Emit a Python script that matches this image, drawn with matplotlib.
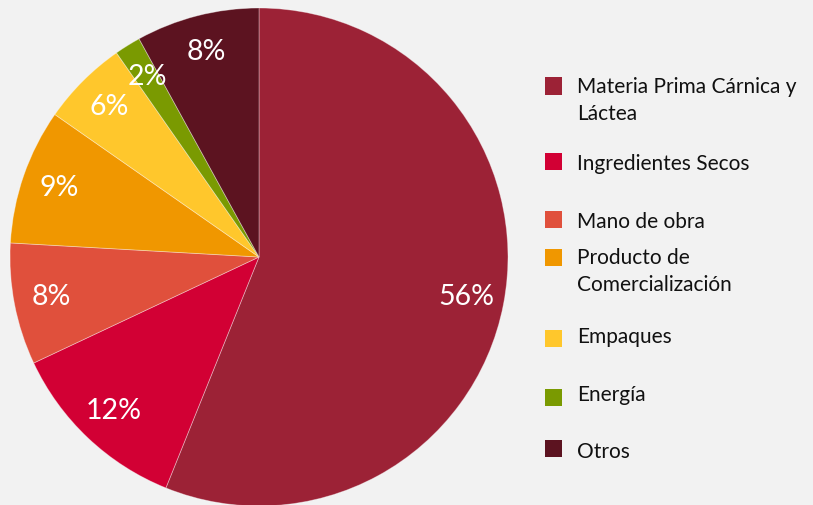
import matplotlib.pyplot as plt
from matplotlib.patches import Rectangle

categorias = ['Materia Prima Cárnica y\nLáctea', 'Ingredientes Secos', 'Mano de obra',
              'Producto de\nComercialización', 'Empaques', 'Energía', 'Otros']
valores = [56.1, 11.9, 7.9, 8.8, 5.6, 1.7, 8.0]
etiquetas = ['56%', '12%', '8%', '9%', '6%', '2%', '8%']
colores = ['#9C2236', '#D20034', '#E0503C', '#F09700', '#FFC72C', '#7A9A01', '#5C1320']

fondo = '#F2F2F2'
plt.rcParams['font.family'] = ['Lato', 'DejaVu Sans']

fig = plt.figure(figsize=(8.13, 5.05), dpi=100, facecolor=fondo)

# Pastel: centro (259, 257) px, radio ~249 px
W, H = 813, 505
r = 249
ax = fig.add_axes([(259 - r) / W, 1 - (257 + r) / H, 2 * r / W, 2 * r / H])
ax.set_facecolor(fondo)
wedges, textos = ax.pie(valores, colors=colores, startangle=90, counterclock=False,
                        labels=etiquetas, labeldistance=0.85, radius=1,
                        wedgeprops=dict(linewidth=0.6, edgecolor=(1, 1, 1, 0.4)),
                        textprops=dict(color='white', fontsize=20.5, ha='center', va='center'))
ax.set_xlim(-1, 1)
ax.set_ylim(-1, 1)
ax.set_aspect('equal')
ax.axis('off')

# Leyenda manual (espaciado como en el original)
pos_txt = [87, 164, 222, 258, 337, 395, 452]
pos_cuadro = [86, 161, 219, 257, 338, 397, 448]
for nombre, color, yt, yc in zip(categorias, colores, pos_txt, pos_cuadro):
    fig.patches.append(Rectangle((545 / W, 1 - (yc + 8.5) / H), 17 / W, 17 / H,
                                 transform=fig.transFigure, facecolor=color,
                                 edgecolor='none'))
    for i, linea in enumerate(nombre.split('\n')):
        fig.text(577 / W, 1 - (yt + 27 * i) / H, linea, fontsize=15, color='#111111',
                 va='center', ha='left')

plt.savefig('out.png', dpi=100, facecolor=fondo)
